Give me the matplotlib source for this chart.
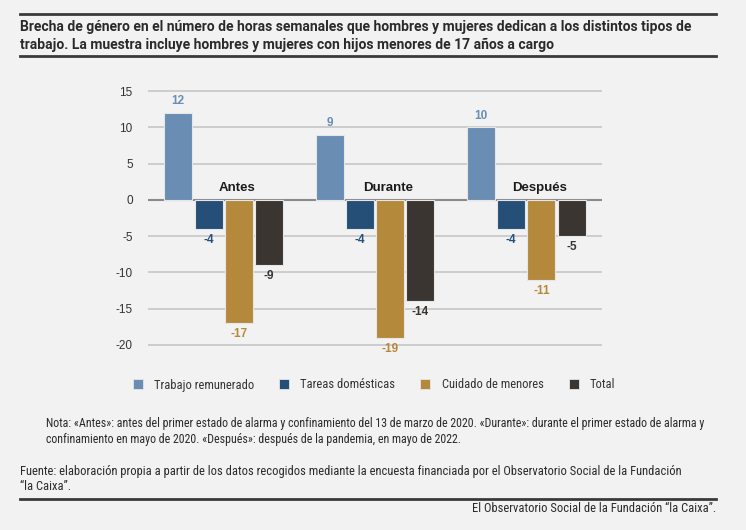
import numpy as np
import matplotlib.pyplot as plt
from matplotlib.lines import Line2D
from matplotlib.patches import Patch

# datos
periodos = ["Antes", "Durante", "Después"]
series = ["Trabajo remunerado", "Tareas domésticas", "Cuidado de menores", "Total"]
trabajo = [12, 9, 10]
tareas = [-4, -4, -4]
cuidado = [-17, -19, -11]
total = [-9, -14, -5]
valores = [trabajo, tareas, cuidado, total]
colores = ["#6a8db3", "#254f77", "#b5893b", "#3a3531"]
yticks = [15, 10, 5, 0, -5, -10, -15, -20]

BG = "#f2f2f2"
COND = ["Roboto Condensed", "DejaVu Sans"]
plt.rcParams["font.family"] = ["Liberation Sans", "DejaVu Sans"]

fig = plt.figure(figsize=(7.46, 5.30), dpi=100, facecolor=BG)
ax = fig.add_axes([148 / 746, 1 - 346 / 530, 454 / 746, 256 / 530])
ax.set_facecolor(BG)

x = np.arange(len(periodos))
ancho = 0.185
paso = 0.2
for i, (vals, col) in enumerate(zip(valores, colores)):
    pos = x + (i - 1.5) * paso
    ax.bar(pos, vals, ancho, color=col, edgecolor="#e6e6e6", linewidth=0.8, zorder=3, label=series[i])
    for p, v in zip(pos, vals):
        if v > 0:
            ax.text(p, v + 1.6, str(v), ha="center", va="center", fontsize=8.5,
                    fontweight="bold", color=col, zorder=4)
        else:
            ax.text(p, v - 1.5, str(v), ha="center", va="center", fontsize=8.5,
                    fontweight="bold", color=col, zorder=4)

# nombre de cada periodo sobre la linea del cero
for xi, nombre in zip(x, periodos):
    ax.text(xi + 0.09, 0.8, nombre, ha="center", va="bottom", fontsize=9.5,
            fontweight="bold", color="#1a1a1a", zorder=4)

ax.set_xlim(-0.5, 2.5)
ax.set_ylim(-20.15, 15.15)
ax.set_yticks(yticks)
ax.set_yticklabels([str(t) for t in yticks])
ax.tick_params(axis="y", length=0, pad=11, labelsize=8.5, labelcolor="#333333")
ax.set_xticks([])
for s in ax.spines.values():
    s.set_visible(False)
ax.grid(axis="y", color="#c6c6c6", linewidth=1.2, zorder=1)
ax.axhline(0, color="#8a8a8a", linewidth=1.5, zorder=2)

handles = [Patch(facecolor=c, edgecolor="#e6e6e6", linewidth=0.6) for c in colores]
leg = fig.legend(handles, series, loc="center", bbox_to_anchor=(374 / 746, 1 - 385 / 530),
                 ncol=4, frameon=False, handlelength=0.8, handleheight=0.8,
                 handletextpad=0.9, columnspacing=2.0,
                 prop={"family": COND, "size": 9})
for t in leg.get_texts():
    t.set_color("#333333")

# titulo y lineas
for yl in [14, 56, 499]:
    fig.add_artist(Line2D([20 / 746, 716 / 746], [1 - yl / 530] * 2, color="#3a3a3a", linewidth=2))
titulo = ("Brecha de género en el número de horas semanales que hombres y mujeres dedican a los distintos tipos de\n"
          "trabajo. La muestra incluye hombres y mujeres con hijos menores de 17 años a cargo")
fig.text(20 / 746, 1 - 36 / 530, titulo, ha="left", va="center", fontsize=10, fontweight="bold",
         family=["Roboto", "DejaVu Sans"], color="#2a2a2a", linespacing=1.35)

nota = ("Nota: «Antes»: antes del primer estado de alarma y confinamiento del 13 de marzo de 2020. «Durante»: durante el primer estado de alarma y\n"
        "confinamiento en mayo de 2020. «Después»: después de la pandemia, en mayo de 2022.")
fig.text(46 / 746, 1 - 432 / 530, nota, ha="left", va="center", fontsize=8.6, family=COND,
         color="#2a2a2a", linespacing=1.3)
fuente = ("Fuente: elaboración propia a partir de los datos recogidos mediante la encuesta financiada por el Observatorio Social de la Fundación\n"
          "“la Caixa”.")
fig.text(20 / 746, 1 - 479 / 530, fuente, ha="left", va="center", fontsize=9, family=COND,
         color="#2a2a2a", linespacing=1.25)
fig.text(716 / 746, 1 - 509 / 530, "El Observatorio Social de la Fundación “la Caixa”.", ha="right",
         va="center", fontsize=9, family=COND, color="#2a2a2a")

fig.savefig("out.png", dpi=100, facecolor=BG)
